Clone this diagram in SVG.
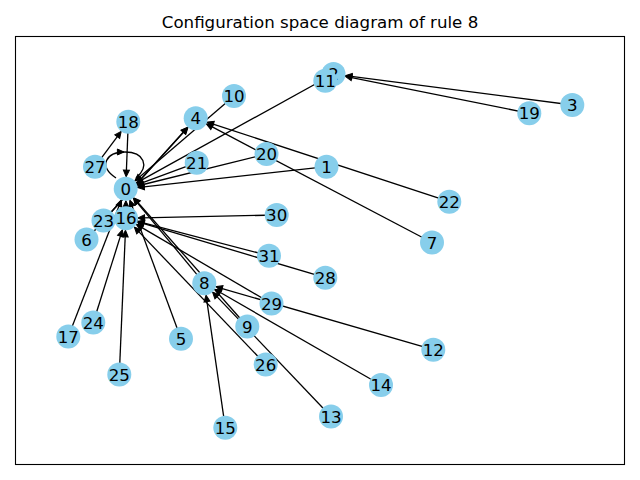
<svg xmlns="http://www.w3.org/2000/svg" width="640" height="480" viewBox="0 0 640 480">
  <style>
    .edge { stroke: #000; stroke-width: 1.3; fill: none; marker-end: url(#ah); }
    .node circle { fill: #87CEEB; }
    .node text { font-family: "DejaVu Sans", "Liberation Sans", sans-serif; font-size: 16.67px; text-anchor: middle; fill: #000; }
    .title { font-family: "DejaVu Sans", "Liberation Sans", sans-serif; font-size: 16.67px; text-anchor: middle; fill: #000; }
  </style>
  <defs>
    <marker id="ah" markerUnits="userSpaceOnUse" markerWidth="12" markerHeight="12" refX="0" refY="0" orient="auto" overflow="visible">
      <path d="M4,0 L-2.6,-3 L-2.6,3 Z" fill="#000" stroke="#000" stroke-width="1" stroke-linejoin="miter"/>
    </marker>
  </defs>
  <rect width="640" height="480" fill="#fff"/>
  <text class="title" x="320" y="28">Configuration space diagram of rule 8</text>
  <rect x="15.5" y="36.5" width="609" height="428" fill="none" stroke="#000" stroke-width="1.1"/>

  <g id="edges">
    <!-- into 0 -->
    <line class="edge" x1="326.5" y1="166.7" x2="141.6" y2="187.05"/>
    <line class="edge" x1="333.5" y1="74" x2="139.7" y2="181.1"/>
    <line class="edge" x1="181" y1="338.7" x2="131.2" y2="203.8"/>
    <line class="edge" x1="204.3" y1="283.3" x2="135.9" y2="201.1"/>
    <line class="edge" x1="247.3" y1="326.5" x2="136.3" y2="200.8"/>
    <line class="edge" x1="234" y1="96" x2="137.85" y2="178.4"/>
    <line class="edge" x1="126" y1="218.3" x2="125.9" y2="204.8"/>
    <line class="edge" x1="68.3" y1="336.5" x2="119.9" y2="203.7"/>
    <line class="edge" x1="128.3" y1="121.7" x2="126.3" y2="172.8"/>
    <line class="edge" x1="266.5" y1="154" x2="141.2" y2="185.0"/>
    <line class="edge" x1="196.7" y1="162.7" x2="140.7" y2="183.3"/>
    <!-- self loop on 0 -->
    <path d="M116,178 C98,166 106,152 125,152 C144,152 150,166 136,178" fill="none" stroke="#000" stroke-width="1.3"/>
    <path d="M124,152 L117.4,149 L117.4,155 Z" fill="#000" stroke="#000" stroke-width="1"/>
    <!-- into 2 -->
    <line class="edge" x1="572.3" y1="105" x2="349.4" y2="76.06"/>
    <line class="edge" x1="529.3" y1="113.3" x2="349.2" y2="77.15"/>
    <!-- into 4 -->
    <line class="edge" x1="86.5" y1="239.5" x2="185.0" y2="130.2"/>
    <line class="edge" x1="103.5" y1="220.5" x2="185.3" y2="130.4"/>
    <line class="edge" x1="432" y1="242.5" x2="209.9" y2="125.7"/>
    <line class="edge" x1="449.3" y1="201.7" x2="210.9" y2="123.3"/>
    <!-- into 8 -->
    <line class="edge" x1="433.3" y1="349.7" x2="219.7" y2="287.8"/>
    <line class="edge" x1="331" y1="416.5" x2="215.3" y2="294.9"/>
    <line class="edge" x1="381" y1="385" x2="218.2" y2="291.3"/>
    <line class="edge" x1="225.3" y1="427.7" x2="206.6" y2="299.1"/>
    <!-- into 16 -->
    <line class="edge" x1="93.3" y1="322.5" x2="121.2" y2="233.6"/>
    <line class="edge" x1="119.3" y1="374.5" x2="125.3" y2="234.3"/>
    <line class="edge" x1="265.7" y1="364.5" x2="137.1" y2="229.9"/>
    <line class="edge" x1="325.3" y1="277.7" x2="141.3" y2="222.9"/>
    <line class="edge" x1="271.5" y1="303.5" x2="139.8" y2="226.4"/>
    <line class="edge" x1="276.7" y1="215" x2="142.0" y2="217.95"/>
    <line class="edge" x1="269" y1="255.7" x2="141.5" y2="222.35"/>
    <!-- into 18 -->
    <line class="edge" x1="95" y1="166.7" x2="118.8" y2="134.6"/>
  </g>

  <g id="n0" class="node"><circle cx="125.7" cy="188.8" r="12"/><text x="125.7" y="194.8">0</text></g>
  <g id="n1" class="node"><circle cx="326.5" cy="166.7" r="12"/><text x="326.5" y="172.7">1</text></g>
  <g id="n2" class="node"><circle cx="333.5" cy="74" r="12"/><text x="333.5" y="80">2</text></g>
  <g id="n3" class="node"><circle cx="572.3" cy="105" r="12"/><text x="572.3" y="111">3</text></g>
  <g id="n4" class="node"><circle cx="195.7" cy="118.3" r="12"/><text x="195.7" y="124.3">4</text></g>
  <g id="n5" class="node"><circle cx="181" cy="338.7" r="12"/><text x="181" y="344.7">5</text></g>
  <g id="n6" class="node"><circle cx="86.5" cy="239.5" r="12"/><text x="86.5" y="245.5">6</text></g>
  <g id="n7" class="node"><circle cx="432" cy="242.5" r="12"/><text x="432" y="248.5">7</text></g>
  <g id="n8" class="node"><circle cx="204.3" cy="283.3" r="12"/><text x="204.3" y="289.3">8</text></g>
  <g id="n9" class="node"><circle cx="247.3" cy="326.5" r="12"/><text x="247.3" y="332.5">9</text></g>
  <g id="n10" class="node"><circle cx="234" cy="96" r="12"/><text x="234" y="102">10</text></g>
  <g id="n11" class="node"><circle cx="325.3" cy="80.7" r="12"/><text x="325.3" y="86.7">11</text></g>
  <g id="n12" class="node"><circle cx="433.3" cy="349.7" r="12"/><text x="433.3" y="355.7">12</text></g>
  <g id="n13" class="node"><circle cx="331" cy="416.5" r="12"/><text x="331" y="422.5">13</text></g>
  <g id="n14" class="node"><circle cx="381" cy="385" r="12"/><text x="381" y="391">14</text></g>
  <g id="n15" class="node"><circle cx="225.3" cy="427.7" r="12"/><text x="225.3" y="433.7">15</text></g>
  <g id="n16" class="node"><circle cx="126" cy="218.3" r="12"/><text x="126" y="224.3">16</text></g>
  <g id="n17" class="node"><circle cx="68.3" cy="336.5" r="12"/><text x="68.3" y="342.5">17</text></g>
  <g id="n18" class="node"><circle cx="128.3" cy="121.7" r="12"/><text x="128.3" y="127.7">18</text></g>
  <g id="n19" class="node"><circle cx="529.3" cy="113.3" r="12"/><text x="529.3" y="119.3">19</text></g>
  <g id="n20" class="node"><circle cx="266.5" cy="154" r="12"/><text x="266.5" y="160">20</text></g>
  <g id="n21" class="node"><circle cx="196.7" cy="162.7" r="12"/><text x="196.7" y="168.7">21</text></g>
  <g id="n22" class="node"><circle cx="449.3" cy="201.7" r="12"/><text x="449.3" y="207.7">22</text></g>
  <g id="n23" class="node"><circle cx="103.5" cy="220.5" r="12"/><text x="103.5" y="226.5">23</text></g>
  <g id="n24" class="node"><circle cx="93.3" cy="322.5" r="12"/><text x="93.3" y="328.5">24</text></g>
  <g id="n25" class="node"><circle cx="119.3" cy="374.5" r="12"/><text x="119.3" y="380.5">25</text></g>
  <g id="n26" class="node"><circle cx="265.7" cy="364.5" r="12"/><text x="265.7" y="370.5">26</text></g>
  <g id="n27" class="node"><circle cx="95" cy="166.7" r="12"/><text x="95" y="172.7">27</text></g>
  <g id="n28" class="node"><circle cx="325.3" cy="277.7" r="12"/><text x="325.3" y="283.7">28</text></g>
  <g id="n29" class="node"><circle cx="271.5" cy="303.5" r="12"/><text x="271.5" y="309.5">29</text></g>
  <g id="n30" class="node"><circle cx="276.7" cy="215" r="12"/><text x="276.7" y="221">30</text></g>
  <g id="n31" class="node"><circle cx="269" cy="255.7" r="12"/><text x="269" y="261.7">31</text></g>
</svg>
